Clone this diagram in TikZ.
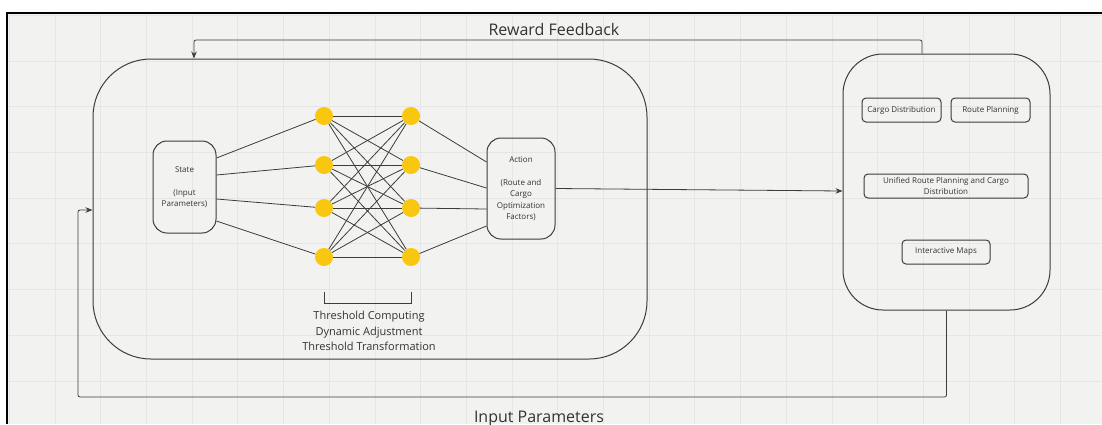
\documentclass[tikz,border=0pt]{standalone}
\usepackage{fontspec}
\setmainfont{Open Sans}
\usetikzlibrary{arrows.meta,calc}
\definecolor{bg}{HTML}{F2F2F0}
\definecolor{gridc}{HTML}{E6E6E4}
\definecolor{ln}{HTML}{3C3C3C}
\definecolor{neur}{HTML}{FAC710}
\definecolor{txt}{HTML}{333333}
\begin{document}
\begin{tikzpicture}[x=1pt,y=-1pt,
  rbx/.style={draw=ln, line width=1pt, rounded corners=#1, inner sep=0pt, text=txt, align=center},
  neuron/.style={circle, fill=neur, minimum size=18pt, inner sep=0pt},
  conn/.style={draw=ln, line width=0.8pt},
  arr/.style={draw=ln, line width=0.8pt, -{Stealth[length=7pt,width=5.5pt]}},
  small/.style={font=\fontsize{8}{11.5}\selectfont},
  big/.style={font=\fontsize{16}{19}\selectfont, text=txt, anchor=base}]
\useasboundingbox (0,0) rectangle (1102,424);
\fill[white] (0,0) rectangle (1102,424);
\fill[bg] (7,13) rectangle (1102,424);
\foreach \i in {0,...,24} \draw[gridc, line width=0.7pt] ({9.3+45.7*\i},13) -- ({9.3+45.7*\i},424);
\foreach \j in {0,...,9} \draw[gridc, line width=0.7pt] (7,{15.3+45.7*\j}) -- (1102,{15.3+45.7*\j});
\draw[black, line width=2pt] (7,424) -- (7,13) -- (1102,13);

% containers
\node[rbx=58pt, minimum width=554pt, minimum height=300pt] (bigbox) at (370,209) {};
\node[rbx=40pt, minimum width=207pt, minimum height=256pt] (rbox) at (946.5,182) {};

% state and action
\node[rbx=14pt, small, minimum width=63pt, minimum height=92pt] (state) at (184.5,187) {State\\ \\(Input\\Parameters)};
\node[rbx=14pt, small, minimum width=68pt, minimum height=101pt] (act) at (521,188.5) {Action\\ \\(Route and\\Cargo\\Optimization\\Factors)};

% neurons
\node[neuron] (a1) at (324,116) {};
\node[neuron] (a2) at (324,165) {};
\node[neuron] (a3) at (324,208) {};
\node[neuron] (a4) at (324,257) {};
\node[neuron] (b1) at (411,116) {};
\node[neuron] (b2) at (411,165) {};
\node[neuron] (b3) at (411,208) {};
\node[neuron] (b4) at (411,257) {};

\draw[conn] ([yshift=29pt]state.east) -- (a1);
\draw[conn] ([yshift=12pt]state.east) -- (a2);
\draw[conn] ([yshift=-12pt]state.east) -- (a3);
\draw[conn] ([yshift=-34pt]state.east) -- (a4);
\foreach \p in {1,...,4} \foreach \q in {1,...,4} \draw[conn] (a\p) -- (b\q);
\draw[conn] (b1) -- ([yshift=26.5pt]act.west);
\draw[conn] (b2) -- ([yshift=0.5pt]act.west);
\draw[conn] (b3) -- ([yshift=-20.5pt]act.west);
\draw[conn] (b4) -- ([yshift=-37.5pt]act.west);

% bracket and labels
\coordinate (brl) at (324,292);
\coordinate (brr) at (411,292);
\draw[conn] (brl) -- ++(0,11) -| (brr);
\node[text=txt, align=center, font=\fontsize{11}{15.5}\selectfont] (thr) at (369,331) {Threshold Computing\\Dynamic Adjustment\\Threshold Transformation};

% right box content
\node[rbx=4pt, small, minimum width=79pt, minimum height=24pt] (cargo) at (901.5,110) {Cargo Distribution};
\node[rbx=4pt, small, minimum width=79pt, minimum height=24pt] (route) at (990.5,110) {Route Planning};
\node[rbx=4pt, font=\fontsize{8}{11}\selectfont, minimum width=164pt, minimum height=24pt] (unif) at (946,186) {Unified Route Planning and Cargo\\Distribution};
\node[rbx=4pt, small, minimum width=88pt, minimum height=24pt] (maps) at (946,252) {Interactive Maps};

% action to right box
\draw[arr] (act.east) -- ([yshift=-9pt]rbox.west);

% feedback loops
\coordinate (rf) at (194,40);
\draw[arr, rounded corners=2pt] ([xshift=-24.5pt]rbox.north) |- (rf) -- (rf |- bigbox.north);
\coordinate (ip) at (78,397);
\draw[arr, rounded corners=2pt] (rbox.south) |- (ip) |- ([yshift=-1pt]bigbox.west);

\node[big] (rfl) at (554,35.7) {Reward Feedback};
\node[big] (ipl) at (539,422) {Input Parameters};
\end{tikzpicture}
\end{document}
